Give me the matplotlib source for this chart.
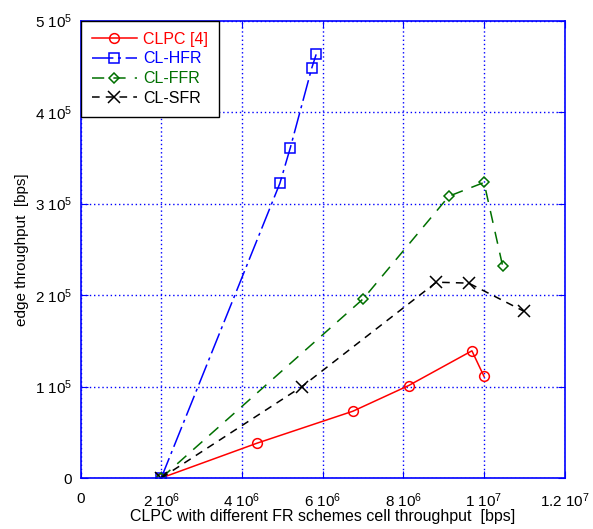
import matplotlib
matplotlib.use("Agg")
import matplotlib.pyplot as plt

plt.rcParams['font.family'] = ['Liberation Sans', 'DejaVu Sans']
plt.rcParams['mathtext.fontset'] = 'custom'
plt.rcParams['mathtext.rm'] = 'Liberation Sans'
plt.rcParams['mathtext.it'] = 'Liberation Sans'

# cell throughput (x) and edge throughput (y), bps
clpc_x = [2.0e6, 4.37e6, 6.75e6, 8.13e6, 9.70e6, 10.0e6]
clpc_y = [0, 0.38e5, 0.73e5, 1.01e5, 1.39e5, 1.11e5]

hfr_x = [2.0e6, 4.94e6, 5.20e6, 5.73e6, 5.84e6]
hfr_y = [0, 3.22e5, 3.61e5, 4.48e5, 4.63e5]

ffr_x = [2.0e6, 7.01e6, 9.13e6, 10.0e6, 10.46e6]
ffr_y = [0, 1.96e5, 3.08e5, 3.23e5, 2.32e5]

sfr_x = [2.0e6, 5.49e6, 8.82e6, 9.62e6, 11.0e6]
sfr_y = [0, 1.0e5, 2.14e5, 2.13e5, 1.82e5]

xticks = [0, 2e6, 4e6, 6e6, 8e6, 1e7, 1.2e7]
xticklabels = ['0', r'$2\ 10^{6}$', r'$4\ 10^{6}$', r'$6\ 10^{6}$',
               r'$8\ 10^{6}$', r'$1\ 10^{7}$', r'$1.2\ 10^{7}$']
yticks = [0, 1e5, 2e5, 3e5, 4e5, 5e5]
yticklabels = ['0', r'$1\ 10^{5}$', r'$2\ 10^{5}$', r'$3\ 10^{5}$',
               r'$4\ 10^{5}$', r'$5\ 10^{5}$']

blue = '#0000ff'
fig = plt.figure(figsize=(5.93, 5.29), dpi=100)
ax = fig.add_axes([0.1358, 0.0964, 0.9523 - 0.1358, 0.9612 - 0.0964])

ax.plot(clpc_x, clpc_y, color='#ff0000', lw=1.1, marker='o', ms=7,
        mfc='none', mew=1.1, label='CLPC [4]')
ax.plot(hfr_x, hfr_y, color='#0000ff', lw=1.1, marker='s', ms=7,
        mfc='none', mew=1.1, dashes=(14, 3, 2, 3), label='CL-HFR')
ax.plot(ffr_x, ffr_y, color='#007000', lw=1.1, marker='D', ms=5,
        mfc='none', mew=1.1, dashes=(8, 6), label='CL-FFR')
ax.plot(sfr_x, sfr_y, color='black', lw=1.1, marker='x', ms=8.5,
        mew=1.1, dashes=(5, 4), label='CL-SFR')

ax.set_xlim(0, 1.2e7)
ax.set_ylim(0, 5e5)
ax.set_xticks(xticks)
ax.set_xticklabels(xticklabels)
ax.set_yticks(yticks)
ax.set_yticklabels(yticklabels)
ax.grid(True, color=blue, linestyle=(0, (1, 2)), lw=1.0)
ax.tick_params(direction='in', top=True, right=True, color=blue,
               labelsize=11, length=5)
ax.tick_params(axis='x', pad=10)
ax.tick_params(axis='y', pad=6)
for s in ax.spines.values():
    s.set_color(blue)
    s.set_linewidth(1.2)

ax.set_xlabel('CLPC with different FR schemes cell throughput  [bps]',
              fontsize=11.5, labelpad=-1)
ax.set_ylabel('edge throughput  [bps]', fontsize=11, labelpad=4)

leg = ax.legend(loc='upper left', fontsize=11.5, handlelength=2.85,
                borderaxespad=0, fancybox=False, framealpha=1,
                labelspacing=0.3, handletextpad=0.36, borderpad=0.7)
leg.get_frame().set_edgecolor('black')
leg.get_frame().set_linewidth(1.0)
for t, c in zip(leg.get_texts(), ['#ff0000', '#0000ff', '#007000', 'black']):
    t.set_color(c)

fig.savefig('out.png', dpi=100)
